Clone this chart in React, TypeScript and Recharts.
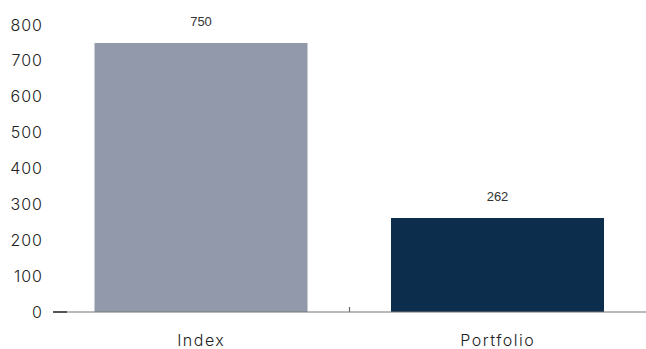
import React from "react";
import { BarChart, Bar, XAxis, YAxis, Cell, LabelList, ReferenceLine } from "recharts";

const categories = ["Index", "Portfolio"];
const values = [750, 262];
const barColors = ["#9199ab", "#0c2d4c"];
const yTicks = [0, 100, 200, 300, 400, 500, 600, 700, 800];

const data = categories.map((name, i) => ({ name, value: values[i] }));

const FONT = "Inter, sans-serif";

const YTick = (props: any) => {
  const { x, y, payload } = props;
  return (
    <g>
      <text x={x} y={y} dy="0.35em" textAnchor="end" fontFamily={FONT} fontSize={16} fontWeight={300} letterSpacing={1} fill="#222">
        {payload.value}
      </text>
      {payload.value === 0 ? (
        <line x1={x + 10} x2={x + 24} y1={y} y2={y} stroke="#333" strokeWidth={1.5} />
      ) : null}
    </g>
  );
};

const BoundaryTick = (p: any) => {
  const yb = Math.max(p.y1 ?? 0, p.y2 ?? 0);
  return <line x1={p.x1} x2={p.x1} y1={yb} y2={yb - 5} stroke="#666" strokeWidth={1.2} />;
};

export default function App() {
  return (
    <div style={{ position: "absolute", left: 0, top: 0 }}>
      <BarChart
        width={646}
        height={349}
        data={data}
        margin={{ top: 25, right: 0, bottom: 0, left: 0 }}
        barCategoryGap="14%"
      >
        <XAxis
          dataKey="name"
          height={37}
          axisLine={{ stroke: "#777", strokeWidth: 1.2 }}
          tickLine={false}
          tickMargin={17}
          tick={{ fontFamily: FONT, fontSize: 16, fontWeight: 300, letterSpacing: 1.5, fill: "#222" }}
        />
        <YAxis
          width={53}
          domain={[0, 800]}
          ticks={yTicks}
          axisLine={false}
          tickLine={false}
          tickSize={0}
          tickMargin={10}
          tick={<YTick />}
          interval={0}
        />
        <ReferenceLine x={categories[0]} position="end" shape={BoundaryTick} ifOverflow="visible" />
        <Bar dataKey="value" isAnimationActive={false}>
          {data.map((d, i) => (
            <Cell key={d.name} fill={barColors[i]} />
          ))}
          <LabelList
            dataKey="value"
            position="top"
            offset={17}
            style={{ fontFamily: "Liberation Sans, Arial, sans-serif", fontSize: 13, fill: "#333" }}
          />
        </Bar>
      </BarChart>
    </div>
  );
}
